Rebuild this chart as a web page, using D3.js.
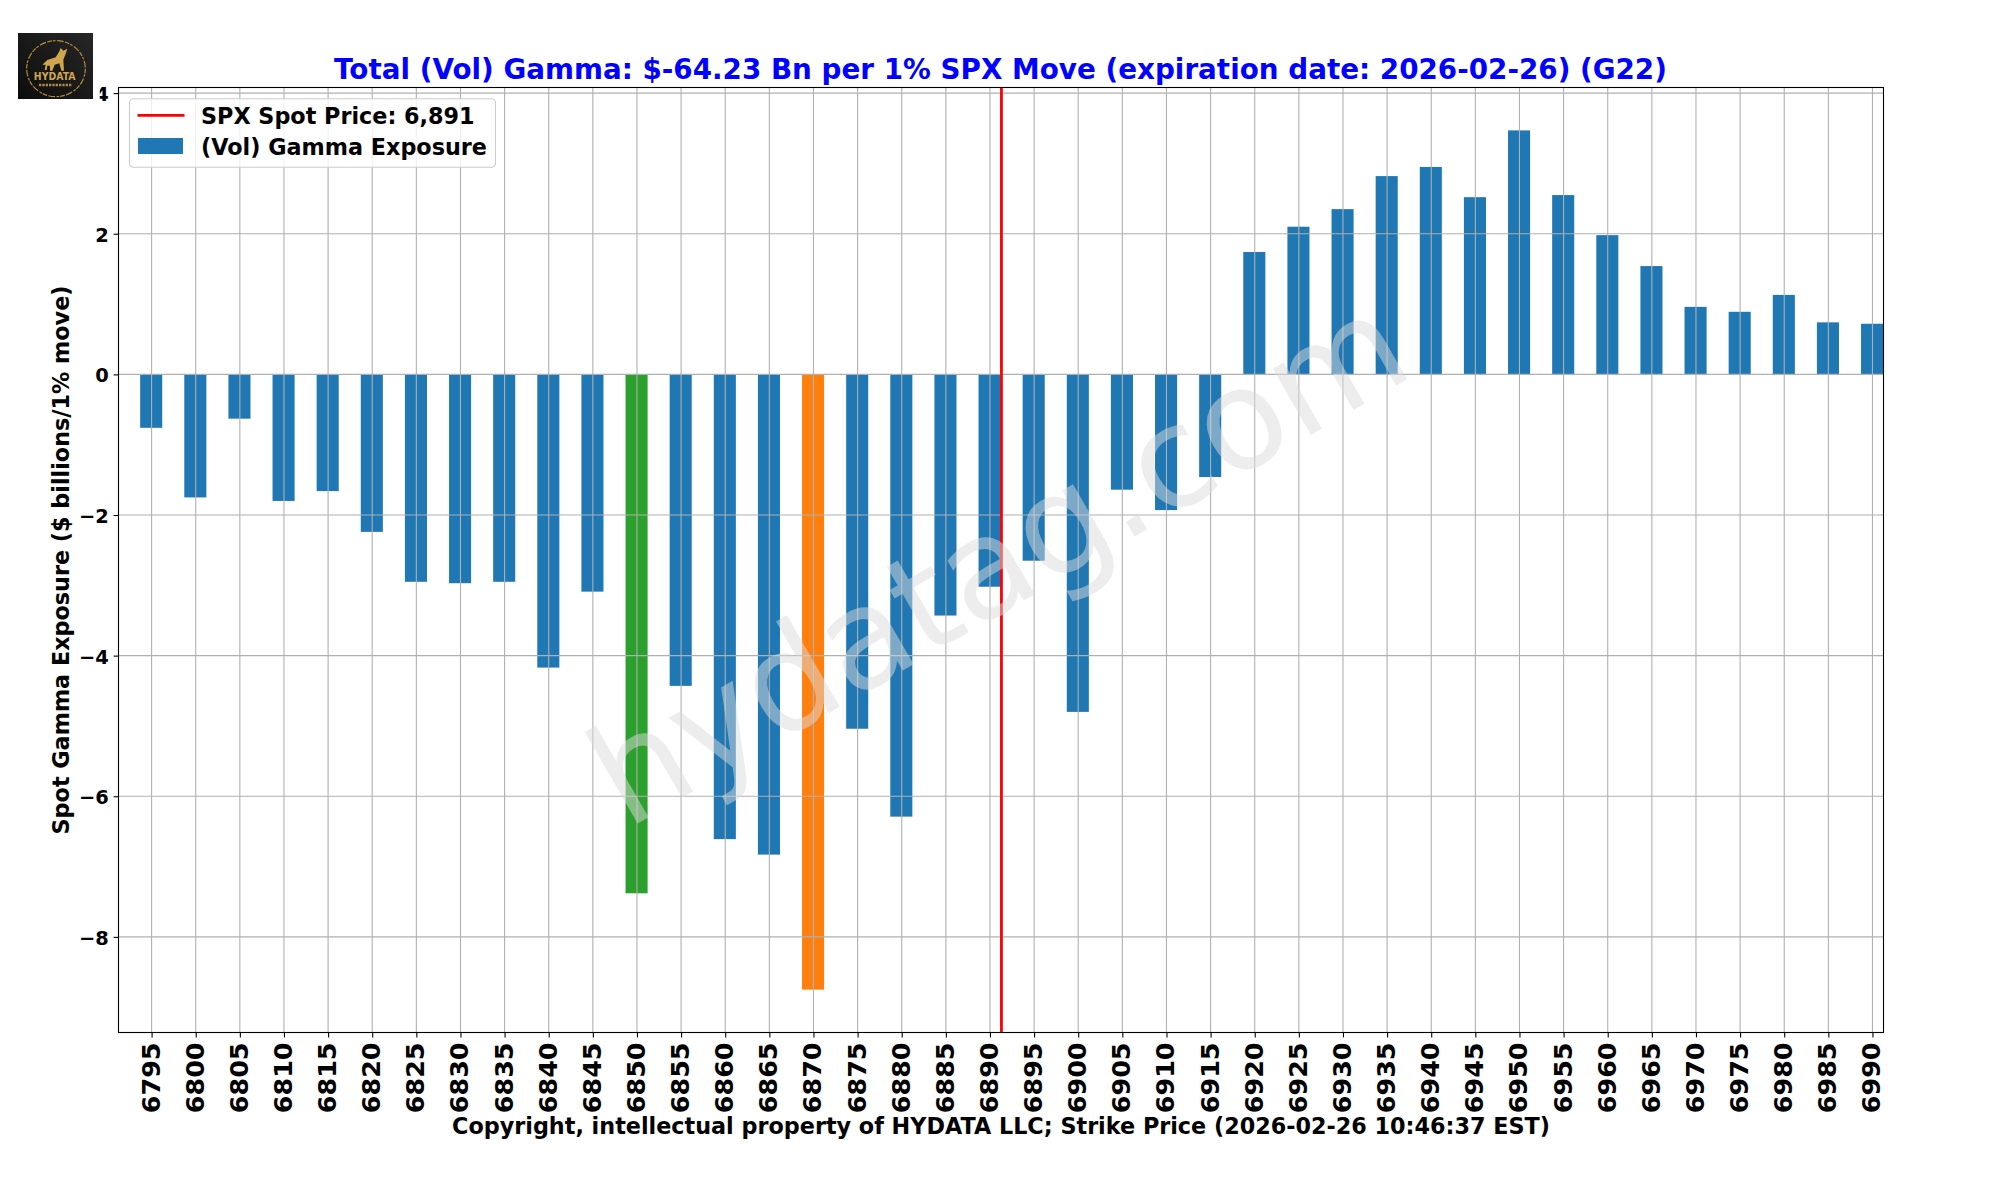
<!DOCTYPE html>
<html>
<head>
<meta charset="utf-8">
<script src="https://cdn.jsdelivr.net/npm/d3@7"></script>
<style>
  html, body { margin: 0; padding: 0; background: #fff; }
  text { font-family: "DejaVu Sans", sans-serif; }
</style>
</head>
<body>
<div id="vis"></div>
<script>
const strikes = [6795, 6800, 6805, 6810, 6815, 6820, 6825, 6830, 6835, 6840,
                 6845, 6850, 6855, 6860, 6865, 6870, 6875, 6880, 6885, 6890,
                 6895, 6900, 6905, 6910, 6915, 6920, 6925, 6930, 6935, 6940,
                 6945, 6950, 6955, 6960, 6965, 6970, 6975, 6980, 6985, 6990];
const gamma = [-0.76, -1.75, -0.63, -1.80, -1.66, -2.24, -2.95, -2.97, -2.95, -4.17,
               -3.09, -7.38, -4.43, -6.61, -6.83, -8.75, -5.04, -6.29, -3.43, -3.02,
               -2.65, -4.80, -1.64, -1.93, -1.46, 1.74, 2.10, 2.35, 2.82, 2.95,
               2.52, 3.47, 2.55, 1.98, 1.54, 0.96, 0.89, 1.13, 0.74, 0.72];
const yTicks = [4, 2, 0, -2, -4, -6, -8];
const spotPrice = 6891.3;
const greenStrike = 6850;
const orangeStrike = 6870;

const titleText = "Total (Vol) Gamma: $-64.23 Bn per 1% SPX Move (expiration date: 2026-02-26) (G22)";
const xLabelText = "Copyright, intellectual property of HYDATA LLC; Strike Price (2026-02-26 10:46:37 EST)";
const yLabelText = "Spot Gamma Exposure ($ billions/1% move)";
const legendLabels = ["SPX Spot Price: 6,891", "(Vol) Gamma Exposure"];

const width = 2000, height = 1200;
const plotL = 118.5, plotR = 1883.5, plotT = 87.5, plotB = 1032.5;

const svg = d3.select("#vis").append("svg")
    .attr("width", width)
    .attr("height", height)
    .style("display", "block");

// pandas puts 0.75 of a step left of the first bar and 0.25 right of the last
const x = d3.scaleLinear().domain([6791.25, 6991.25]).range([plotL, plotR]);
const y = d3.scaleLinear().domain([-9.36, 4.08]).range([plotB, plotT]);
const barW = x(6795 + 2.5) - x(6795);

function barColor(s) {
    if (s === greenStrike) return "#2ca02c";
    if (s === orangeStrike) return "#ff7f0e";
    return "#1f77b4";
}

// bars are clipped at the right spine, same as the last bar in the reference
svg.append("clipPath").attr("id", "plot")
    .append("rect")
    .attr("x", plotL).attr("y", plotT)
    .attr("width", plotR - plotL).attr("height", plotB - plotT);

svg.append("g").attr("clip-path", "url(#plot)")
    .selectAll("rect")
    .data(strikes)
    .enter()
    .append("rect")
    .attr("x", d => x(d) - barW / 2 - 0.4)
    .attr("width", barW)
    .attr("y", (d, i) => y(Math.max(gamma[i], 0)))
    .attr("height", (d, i) => Math.abs(y(gamma[i]) - y(0)))
    .attr("fill", d => barColor(d));

// grid sits over the bars
const grid = svg.append("g").attr("stroke", "#b0b0b0").attr("stroke-width", 1.1);
grid.selectAll("line.gx").data(strikes).enter().append("line")
    .attr("class", "gx")
    .attr("x1", d => x(d)).attr("x2", d => x(d))
    .attr("y1", plotT).attr("y2", plotB);
grid.selectAll("line.gy").data(yTicks).enter().append("line")
    .attr("class", "gy")
    .attr("x1", plotL).attr("x2", plotR)
    .attr("y1", d => y(d)).attr("y2", d => y(d));

svg.append("line")
    .attr("x1", x(spotPrice)).attr("x2", x(spotPrice))
    .attr("y1", plotT).attr("y2", plotB)
    .attr("stroke", "#ff0000")
    .attr("stroke-width", 2.8);

// axes
const xAxis = d3.axisBottom(x).tickValues(strikes).tickFormat(d3.format("d"))
    .tickSize(4.9).tickPadding(4.9);
const yAxis = d3.axisLeft(y).tickValues(yTicks)
    .tickFormat(d => (d < 0 ? "\u2212" + Math.abs(d) : "" + d))
    .tickSize(4.9).tickPadding(4.9);

const gx = svg.append("g").attr("transform", `translate(0,${plotB})`).call(xAxis);
gx.select(".domain").remove();
gx.selectAll(".tick line").attr("stroke", "#000").attr("stroke-width", 1.1);
gx.selectAll(".tick text")
    .attr("x", 0).attr("y", 0).attr("dy", null)
    .attr("text-anchor", "end")
    .attr("dominant-baseline", "central")
    .attr("transform", "translate(-1.5,10) rotate(-90)")
    .style("font-size", "25.4px").style("font-weight", "bold")
    .style("font-family", '"DejaVu Sans"');

const gy = svg.append("g").attr("transform", `translate(${plotL},0)`).call(yAxis);
gy.select(".domain").remove();
gy.selectAll(".tick line").attr("stroke", "#000").attr("stroke-width", 1.1);
gy.selectAll(".tick text")
    .attr("dy", "0.38em")
    .style("font-size", "19.44px").style("font-weight", "bold")
    .style("font-family", '"DejaVu Sans"');

svg.append("rect")
    .attr("x", plotL).attr("y", plotT)
    .attr("width", plotR - plotL).attr("height", plotB - plotT)
    .attr("fill", "none").attr("stroke", "#000").attr("stroke-width", 1.1);

// legend
const legend = svg.append("g");
legend.append("rect")
    .attr("x", 129.5).attr("y", 98.7)
    .attr("width", 366).attr("height", 68.6)
    .attr("rx", 4).attr("ry", 4)
    .attr("fill", "#fff").attr("fill-opacity", 0.8)
    .attr("stroke", "#cccccc").attr("stroke-width", 1.1);
legend.append("line")
    .attr("x1", 137.5).attr("x2", 184.5)
    .attr("y1", 115.3).attr("y2", 115.3)
    .attr("stroke", "#ff0000").attr("stroke-width", 2.8);
legend.append("rect")
    .attr("x", 138).attr("y", 138)
    .attr("width", 45).attr("height", 16)
    .attr("fill", "#1f77b4");
legend.selectAll("text").data(legendLabels).enter().append("text")
    .attr("x", 201)
    .attr("y", (d, i) => 124 + i * 31)
    .style("font-size", "22.3px").style("font-weight", "bold")
    .text(d => d);

// titles
svg.append("text")
    .attr("x", (plotL + plotR) / 2 - 0.5).attr("y", 78.5)
    .attr("text-anchor", "middle")
    .attr("fill", "#0000ff")
    .style("font-size", "27.8px").style("font-weight", "bold")
    .text(titleText);
svg.append("text")
    .attr("x", (plotL + plotR) / 2).attr("y", 1134)
    .attr("text-anchor", "middle")
    .style("font-size", "22.3px").style("font-weight", "bold")
    .text(xLabelText);
svg.append("text")
    .attr("transform", `translate(69,${(plotT + plotB) / 2}) rotate(-90)`)
    .attr("text-anchor", "middle")
    .style("font-size", "22.3px").style("font-weight", "bold")
    .text(yLabelText);

// watermark over everything
svg.append("text")
    .attr("transform", "translate(998,560) rotate(-30)")
    .attr("text-anchor", "middle")
    .attr("dominant-baseline", "central")
    .attr("fill", "#dcdcdc").attr("fill-opacity", 0.5)
    .style("font-size", "139px")
    .text("hydatag.com");

// logo, drawn in the 3x units I measured it in
const defs = svg.append("defs");
const lg = defs.append("linearGradient").attr("id", "logoBg")
    .attr("x1", 0).attr("y1", 1).attr("x2", 1).attr("y2", 0);
lg.append("stop").attr("offset", "0%").attr("stop-color", "#0c0c0c");
lg.append("stop").attr("offset", "100%").attr("stop-color", "#272727");

// white margin of the logo image hides the left of the "4"
svg.append("rect").attr("x", 90).attr("y", 33).attr("width", 9.8).attr("height", 72).attr("fill", "#fff");
svg.append("rect").attr("x", 18).attr("y", 33).attr("width", 75).attr("height", 66).attr("fill", "url(#logoBg)");

const logo = svg.append("g").attr("transform", "translate(14,28) scale(0.3333)");
logo.append("ellipse")
    .attr("cx", 126).attr("cy", 122).attr("rx", 88).attr("ry", 84)
    .attr("fill", "none").attr("stroke", "#b08d3c").attr("stroke-width", 3.5)
    .attr("stroke-dasharray", "14 3 8 5 20 4");
logo.append("path")
    .attr("d", "M85,110 L100,96 L125,88 L135,72 L140,60 L148,68 L160,62 L155,78 L148,95 L150,128 L142,128 L136,106 L122,110 L115,128 L108,128 L108,113 L100,113 L98,126 L92,126 L95,110 Z")
    .attr("fill", "#d0a64e");
logo.append("text")
    .attr("x", 122).attr("y", 157)
    .attr("text-anchor", "middle")
    .attr("fill", "#d0a64e")
    .style("font-size", "33px")
    .style("font-weight", "bold")
    .attr("textLength", 125)
    .attr("lengthAdjust", "spacingAndGlyphs")
    .text("HYDATA");
logo.append("line")
    .attr("x1", 75).attr("x2", 175).attr("y1", 171).attr("y2", 171)
    .attr("stroke", "#a98a45").attr("stroke-width", 7)
    .attr("stroke-dasharray", "7 3");
</script>
</body>
</html>
